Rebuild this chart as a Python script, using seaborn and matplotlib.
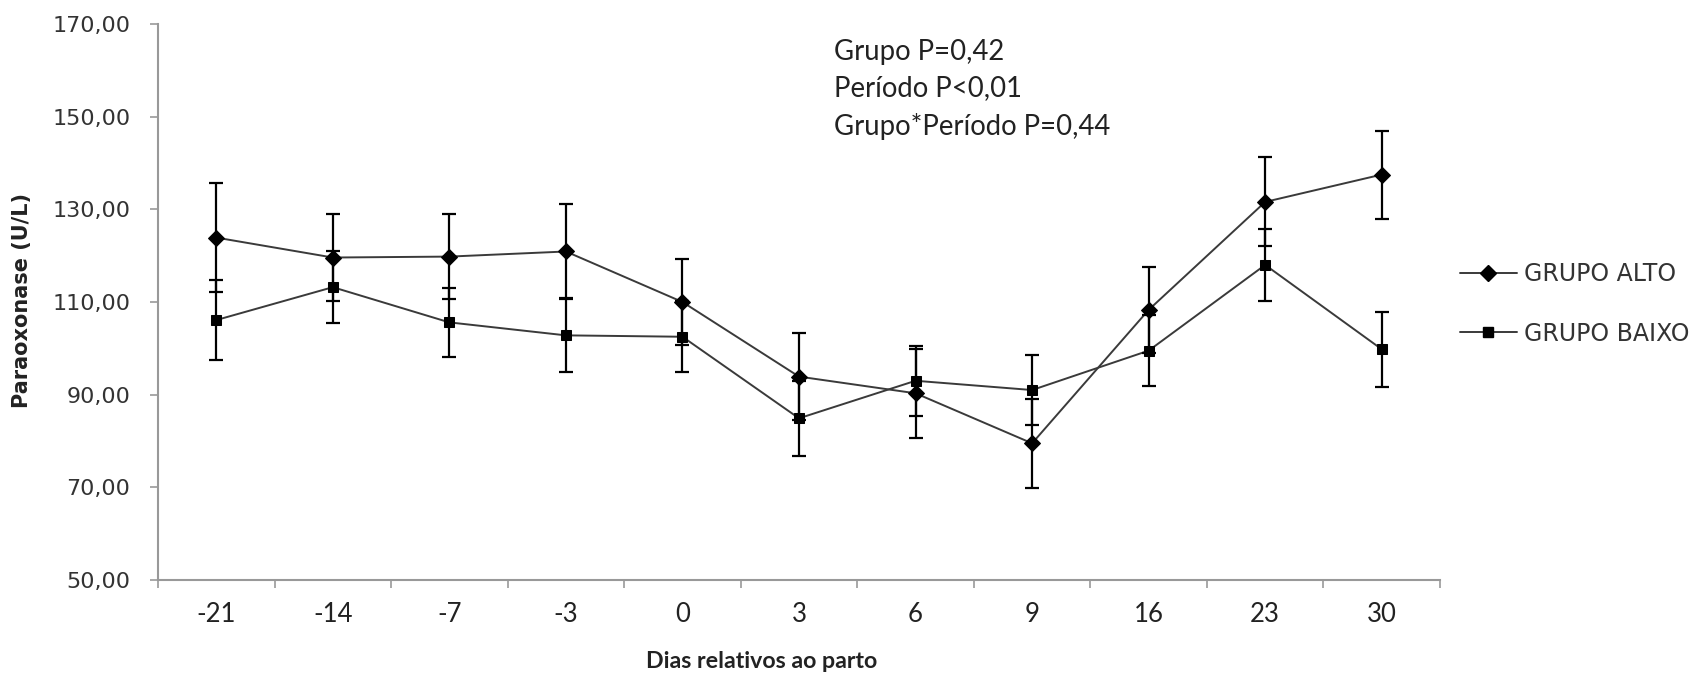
import numpy as np
import pandas as pd
import matplotlib
matplotlib.use("Agg")
import matplotlib.pyplot as plt
import seaborn as sns
from matplotlib.lines import Line2D

# ---- data ----
dias = ["-21", "-14", "-7", "-3", "0", "3", "6", "9", "16", "23", "30"]
alto = [123.9, 119.6, 119.8, 120.9, 110.0, 93.9, 90.3, 79.5, 108.3, 131.6, 137.5]
alto_err = [11.7, 9.3, 9.2, 10.3, 9.3, 9.4, 9.6, 9.6, 9.3, 9.6, 9.5]
baixo = [106.1, 113.2, 105.6, 102.8, 102.5, 84.9, 93.0, 91.0, 99.5, 118.0, 99.8]
baixo_err = [8.6, 7.7, 7.5, 8.0, 7.7, 8.1, 7.6, 7.6, 7.6, 7.7, 8.1]
yticks = [50, 70, 90, 110, 130, 150, 170]
series_names = ["GRUPO ALTO", "GRUPO BAIXO"]
stats_lines = ["Grupo P=0,42", "Período P<0,01", "Grupo*Período P=0,44"]

sns.set_theme(style="white")
plt.rcParams['font.family'] = ['DejaVu Sans']

W, H = 1695, 674
fig = plt.figure(figsize=(W / 100, H / 100), dpi=100)
ax = fig.add_axes([158 / W, 94 / H, 1282 / W, 556 / H])

pos = np.arange(len(dias))
line_col = "#3a3a3a"

sns.lineplot(x=pos, y=alto, ax=ax, color=line_col, linewidth=1.4, marker="D",
             markersize=8, markerfacecolor="black", markeredgecolor="black", zorder=3)
sns.lineplot(x=pos, y=baixo, ax=ax, color=line_col, linewidth=1.4, marker="s",
             markersize=7.5, markerfacecolor="black", markeredgecolor="black", zorder=3)

ax.errorbar(pos, alto, yerr=alto_err, fmt="none", ecolor="black", elinewidth=1.6,
            capsize=5.3, capthick=1.6, zorder=4)
ax.errorbar(pos, baixo, yerr=baixo_err, fmt="none", ecolor="black", elinewidth=1.6,
            capsize=5.3, capthick=1.6, zorder=4)

ax.set_xlim(-0.5, len(dias) - 0.5)
ax.set_ylim(50, 170)

# x: boundary tick marks (major), labels at centers (minor)
ax.set_xticks(np.arange(-0.5, len(dias), 1.0))
ax.set_xticklabels([])
ax.set_xticks(pos, minor=True)
ax.set_xticklabels(dias, minor=True, fontsize=18.5, family="Lato", color="#222222")
ax.tick_params(axis="x", which="major", length=6, width=1.2, color="#999999",
               direction="out", bottom=True)
ax.tick_params(axis="x", which="minor", length=0, pad=16, bottom=True)

ax.set_yticks(yticks)
ax.set_yticklabels([f"{v:.2f}".replace(".", ",") for v in yticks], fontsize=16,
                   color="#333333")
ax.tick_params(axis="y", length=6, width=1.2, color="#999999", direction="out",
               left=True, pad=14)

for s in ["top", "right"]:
    ax.spines[s].set_visible(False)
for s in ["left", "bottom"]:
    ax.spines[s].set_color("#999999")
    ax.spines[s].set_linewidth(1.5)

ax.set_xlabel("Dias relativos ao parto", fontsize=16.7, family="Lato",
              fontweight="bold", color="#222222")
ax.xaxis.set_label_coords((762 - 158) / 1282, (580 - 661) / 556)
ax.xaxis.label.set_va("center")
ax.set_ylabel("Paraoxonase (U/L)", fontsize=15, fontweight="bold", color="#222222")
ax.yaxis.set_label_coords((22 - 158) / 1282, (580 - 300) / 556)
ax.yaxis.label.set_va("center")

# stats text
for txt, yc in zip(stats_lines, [52, 88, 127]):
    fig.text(834 / W, (H - yc) / H, txt, fontsize=19.8, family="Lato",
             color="#222222", va="center", ha="left")

handles = [
    Line2D([], [], color=line_col, linewidth=1.4, marker="D", markersize=8,
           markerfacecolor="black", markeredgecolor="black"),
    Line2D([], [], color=line_col, linewidth=1.4, marker="s", markersize=7.5,
           markerfacecolor="black", markeredgecolor="black"),
]
leg = fig.legend(handles, series_names, loc="center left",
                 bbox_to_anchor=(1460 / W, (H - 304) / H), frameon=False,
                 fontsize=17, handlelength=2.4, handletextpad=0.3,
                 labelspacing=1.5, borderpad=0, borderaxespad=0)
for t in leg.get_texts():
    t.set_color("#333333")

fig.savefig("out.png", dpi=100)
